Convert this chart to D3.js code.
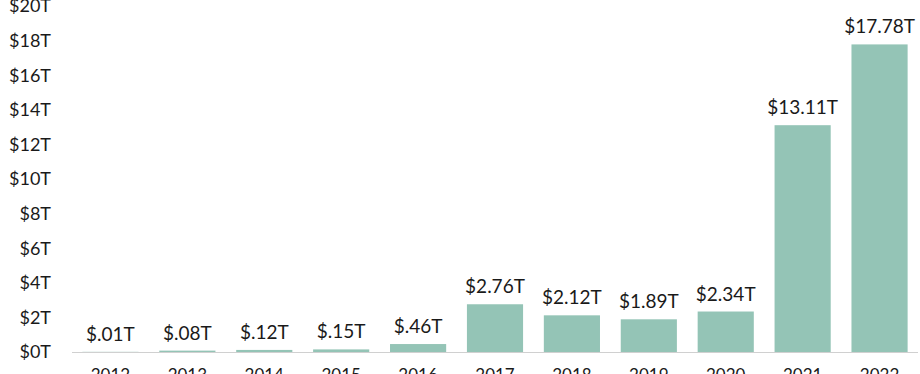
<!DOCTYPE html>
<html><head><meta charset="utf-8">
<script src="https://cdn.jsdelivr.net/npm/d3@7"></script>
<style>body{margin:0;background:#fff}svg{display:block}text{font-family:Lato,"Open Sans",sans-serif;fill:#1a1a1a}</style>
</head><body><svg id="c" width="920" height="374"></svg>
<script>
const years = ["2012","2013","2014","2015","2016","2017","2018","2019","2020","2021","2022"];
const values = [0.01,0.08,0.12,0.15,0.46,2.76,2.12,1.89,2.34,13.11,17.78];
const valueLabels = ["$.01T","$.08T","$.12T","$.15T","$.46T","$2.76T","$2.12T","$1.89T","$2.34T","$13.11T","$17.78T"];
const yTicks = [0,2,4,6,8,10,12,14,16,18,20];

const svg = d3.select("#c");
const x = d3.scaleBand().domain(years).range([72,918]).paddingInner(0.27).paddingOuter(0.135);
const y = d3.scaleLinear().domain([0,20]).range([352,6]);

// y labels
svg.append("g").selectAll("text").data(yTicks).join("text")
  .attr("x",51).attr("y",d=>y(d)).attr("dy","0.35em").attr("text-anchor","end")
  .attr("font-size",18).text(d=>"$"+d+"T");

// bars
svg.append("g").selectAll("rect").data(values).join("rect")
  .attr("x",(d,i)=>x(years[i])).attr("width",x.bandwidth())
  .attr("y",d=>y(d)).attr("height",d=>y(0)-y(d)).attr("fill","#94c4b6");

// baseline
svg.append("line").attr("x1",72).attr("x2",918).attr("y1",y(0)+0.5).attr("y2",y(0)+0.5)
  .attr("stroke","#d0d0d0").attr("stroke-width",1);

// value labels
svg.append("g").selectAll("text").data(values).join("text")
  .attr("x",(d,i)=>x(years[i])+x.bandwidth()/2).attr("y",d=>y(d)-11)
  .attr("text-anchor","middle").attr("font-size",19).text((d,i)=>valueLabels[i]);

// x labels
svg.append("g").selectAll("text").data(years).join("text")
  .attr("x",d=>x(d)+x.bandwidth()/2).attr("y",381)
  .attr("text-anchor","middle").attr("font-size",17).text(d=>d);
</script></body></html>
